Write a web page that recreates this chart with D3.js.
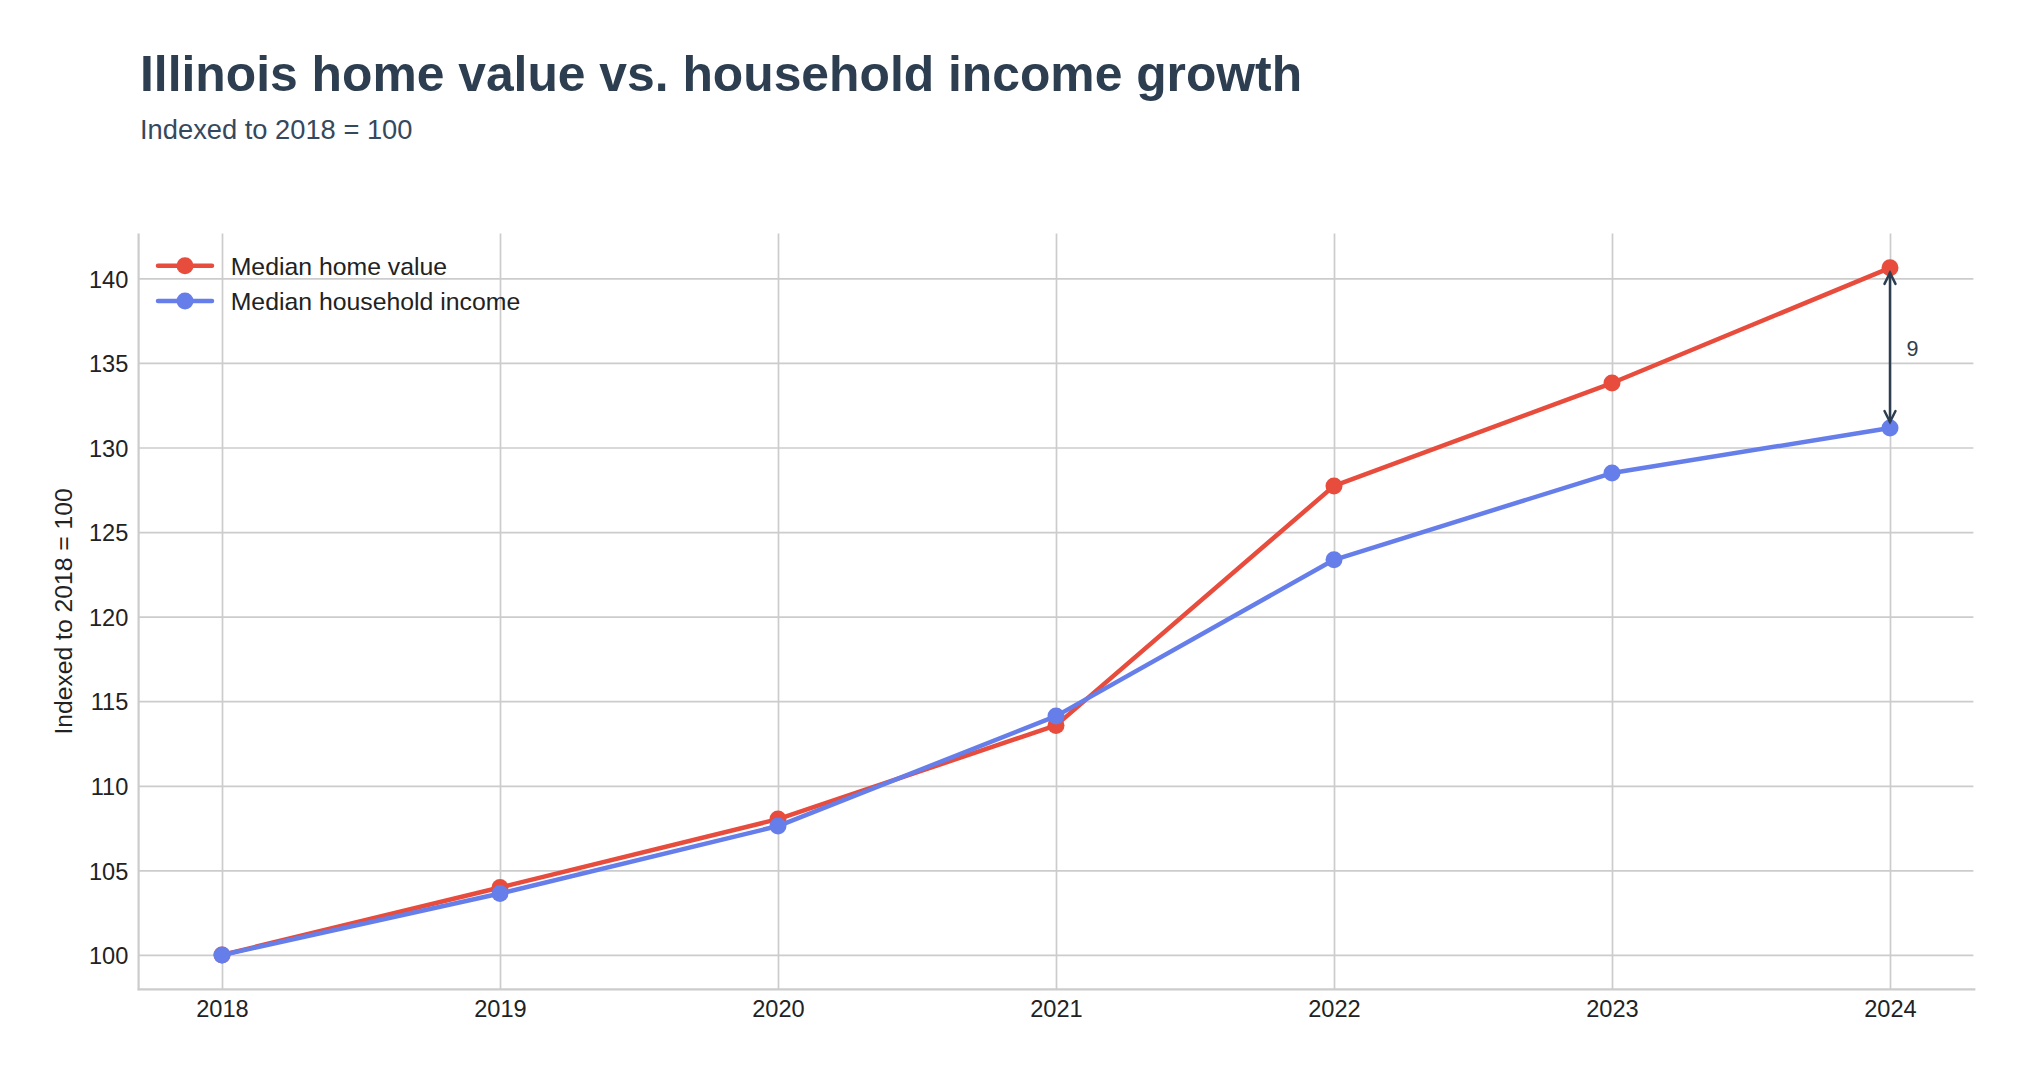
<!DOCTYPE html>
<html>
<head>
<meta charset="utf-8">
<script src="https://cdn.jsdelivr.net/npm/d3@7"></script>
<style>
  html, body { margin: 0; padding: 0; background: #ffffff; }
  svg { display: block; font-family: "Liberation Sans", Arial, Helvetica, sans-serif; }
</style>
</head>
<body>
<svg id="chart" width="2027" height="1075"></svg>
<script>
// ---- Data ----
const years = [2018, 2019, 2020, 2021, 2022, 2023, 2024];
const homeValue = [100, 103.99, 108.03, 113.57, 127.73, 133.81, 140.62];
const householdIncome = [100, 103.63, 107.62, 114.12, 123.36, 128.49, 131.15];
const seriesNames = ["Median home value", "Median household income"];
const yTicks = [100, 105, 110, 115, 120, 125, 130, 135, 140];
const titleText = "Illinois home value vs. household income growth";
const subtitleText = "Indexed to 2018 = 100";
const yLabelText = "Indexed to 2018 = 100";

// ---- Layout ----
const W = 2027, H = 1075;
const plot = { left: 138.6, right: 1973.4, top: 233.5, bottom: 989.3 };
const colors = ["#e74c3c", "#667eea"];
const svg = d3.select("#chart");

// scales with matplotlib-like 5% margins
const xPad = (d3.max(years) - d3.min(years)) * 0.05;
const x = d3.scaleLinear()
  .domain([d3.min(years) - xPad, d3.max(years) + xPad])
  .range([plot.left, plot.right]);
const allVals = homeValue.concat(householdIncome);
const yMin = d3.min(allVals), yMax = d3.max(allVals);
const yPad = (yMax - yMin) * 0.05;
const y = d3.scaleLinear()
  .domain([yMin - yPad, yMax + yPad])
  .range([plot.bottom, plot.top]);

// ---- Grid ----
const grid = svg.append("g").attr("class", "grid");
grid.append("g")
  .attr("transform", `translate(${plot.left},0)`)
  .call(d3.axisLeft(y).tickValues(yTicks).tickSize(-(plot.right - plot.left)).tickFormat(""))
  .call(g => g.select(".domain").remove())
  .call(g => g.selectAll("line").attr("stroke", "#cccccc").attr("stroke-width", 1.7));
grid.append("g")
  .attr("transform", `translate(0,${plot.bottom})`)
  .call(d3.axisBottom(x).tickValues(years).tickSize(-(plot.bottom - plot.top)).tickFormat(""))
  .call(g => g.select(".domain").remove())
  .call(g => g.selectAll("line").attr("stroke", "#cccccc").attr("stroke-width", 1.7));

// ---- Spines ----
svg.append("line").attr("x1", plot.left).attr("x2", plot.left)
  .attr("y1", plot.top).attr("y2", plot.bottom + 1)
  .attr("stroke", "#cccccc").attr("stroke-width", 2.2);
svg.append("line").attr("x1", plot.left - 1).attr("x2", plot.right + 2)
  .attr("y1", plot.bottom).attr("y2", plot.bottom)
  .attr("stroke", "#cccccc").attr("stroke-width", 2.2);

// ---- Axes tick labels ----
svg.append("g")
  .attr("transform", `translate(0,${plot.bottom})`)
  .call(d3.axisBottom(x).tickValues(years).tickSize(0).tickPadding(10.5).tickFormat(d3.format("d")))
  .call(g => g.select(".domain").remove())
  .call(g => g.selectAll("text").attr("fill", "#222222").style("font-size", "23.6px")
    .style("font-family", "'Liberation Sans', Arial, sans-serif"));
svg.append("g")
  .attr("transform", `translate(${plot.left},0)`)
  .call(d3.axisLeft(y).tickValues(yTicks).tickSize(0).tickPadding(10.3).tickFormat(d3.format("d")))
  .call(g => g.select(".domain").remove())
  .call(g => g.selectAll("text").attr("fill", "#222222").style("font-size", "23.6px")
    .attr("dy", "0.37em")
    .style("font-family", "'Liberation Sans', Arial, sans-serif"));

// y-axis label
svg.append("text")
  .attr("transform", `translate(71.5,${(plot.top + plot.bottom) / 2}) rotate(-90)`)
  .attr("text-anchor", "middle")
  .attr("fill", "#222222")
  .style("font-size", "24.7px")
  .text(yLabelText);

// ---- Lines ----
const series = [homeValue, householdIncome];
const line = d3.line().x((d, i) => x(years[i])).y(d => y(d));
series.forEach((vals, s) => {
  const g = svg.append("g");
  g.append("path").datum(vals)
    .attr("d", line)
    .attr("fill", "none")
    .attr("stroke", colors[s])
    .attr("stroke-width", 4.5)
    .attr("stroke-linejoin", "round")
    .attr("stroke-linecap", "round");
  g.selectAll("circle").data(vals).join("circle")
    .attr("cx", (d, i) => x(years[i]))
    .attr("cy", d => y(d))
    .attr("r", 8.5)
    .attr("fill", colors[s]);
});

// ---- Gap annotation ----
const lastI = years.length - 1;
const ax = x(years[lastI]);
const yTop = y(homeValue[lastI]) + 5;
const yBot = y(householdIncome[lastI]) - 6;
const ann = svg.append("g").attr("stroke", "#2c3e50").attr("stroke-width", 2.5).attr("fill", "none")
  .attr("stroke-linecap", "round").attr("stroke-linejoin", "miter");
ann.append("line").attr("x1", ax).attr("x2", ax).attr("y1", yTop).attr("y2", yBot);
ann.append("path").attr("d", `M${ax - 5.5},${yTop + 11} L${ax},${yTop} L${ax + 5.5},${yTop + 11}`);
ann.append("path").attr("d", `M${ax - 5.5},${yBot - 11} L${ax},${yBot} L${ax + 5.5},${yBot - 11}`);
const gap = homeValue[lastI] - householdIncome[lastI];
svg.append("text")
  .attr("x", ax + 16.5)
  .attr("y", (y(homeValue[lastI]) + y(householdIncome[lastI])) / 2)
  .attr("dy", "0.36em")
  .attr("fill", "#2c3e50")
  .style("font-size", "21.5px")
  .text(d3.format(".0f")(gap));

// ---- Legend ----
const legendRows = [265.7, 301];
seriesNames.forEach((name, s) => {
  const g = svg.append("g").attr("transform", `translate(0,${legendRows[s]})`);
  g.append("line").attr("x1", 158).attr("x2", 212).attr("y1", 0).attr("y2", 0)
    .attr("stroke", colors[s]).attr("stroke-width", 4.5).attr("stroke-linecap", "round");
  g.append("circle").attr("cx", 185).attr("cy", 0).attr("r", 8.5).attr("fill", colors[s]);
  g.append("text").attr("x", 230.7).attr("y", 0).attr("dy", "0.36em")
    .attr("fill", "#222222").style("font-size", "24.8px").text(name);
});

// ---- Title ----
svg.append("text").attr("x", 140).attr("y", 91)
  .attr("fill", "#2c3e50").style("font-size", "49.8px").style("font-weight", "bold")
  .text(titleText);
svg.append("text").attr("x", 140).attr("y", 138.7)
  .attr("fill", "#34495e").style("font-size", "27.3px")
  .text(subtitleText);
</script>
</body>
</html>
